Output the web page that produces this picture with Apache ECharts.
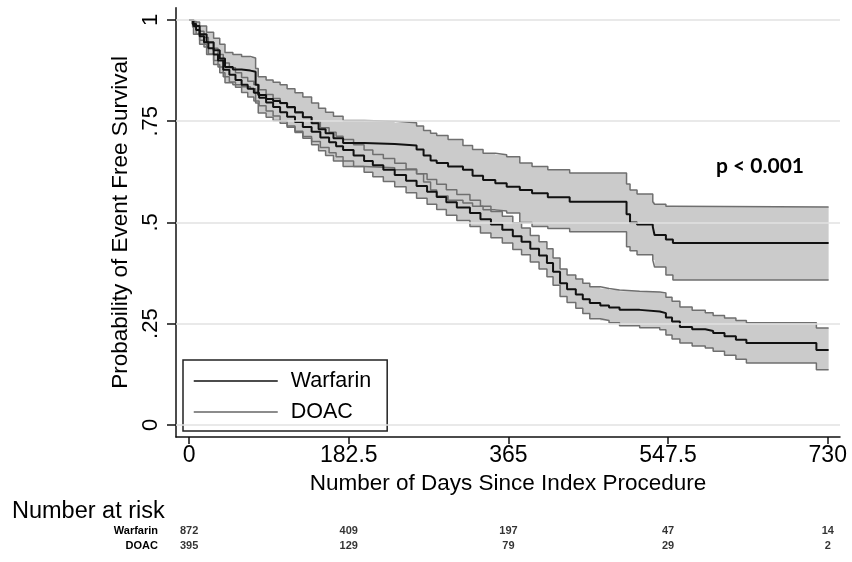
<!DOCTYPE html>
<html><head><meta charset="utf-8">
<script src="https://cdn.jsdelivr.net/npm/echarts@6/dist/echarts.min.js"></script>
<style>html,body{margin:0;padding:0;background:#fff}#c{width:852px;height:562px}</style>
</head><body><div id="c"></div><script>
// ---- tick definitions ----
const xTicks = [0, 182.5, 365, 547.5, 730];
const yTicks = [0, 0.25, 0.5, 0.75, 1];

// ---- Warfarin Kaplan-Meier estimate with 95% CI ----
const wfDays = [0,4,8,12,17,22,28,33,39,46,53,60,67,74,80,88,96,104,112,121,130,140,150,160,168,176,188,200,210,222,235,248,260,272,283,294,306,321,333,345,358,370,380,390,400,409,416,424,432,442,450,458,470,480,492,515,538,545,552,561,575,590,599,612,625,637,717,731];
const wfEst = [1,.99,.975,.96,.945,.93,.915,.90,.877,.865,.852,.84,.83,.82,.808,.796,.785,.772,.761,.748,.736,.724,.71,.698,.688,.679,.665,.652,.641,.63,.617,.603,.59,.576,.563,.55,.537,.523,.508,.495,.482,.466,.452,.435,.418,.40,.378,.35,.335,.322,.31,.301,.295,.29,.284,.28,.276,.265,.255,.242,.236,.232,.227,.219,.21,.202,.185,.185];
const wfLo = [1,.983,.965,.95,.933,.916,.90,.884,.86,.847,.834,.821,.81,.80,.788,.775,.763,.75,.738,.725,.712,.70,.685,.672,.662,.652,.638,.624,.613,.601,.588,.573,.56,.545,.532,.518,.505,.49,.474,.462,.449,.433,.42,.402,.385,.366,.345,.317,.302,.288,.275,.262,.258,.252,.245,.24,.235,.222,.212,.202,.195,.19,.182,.172,.162,.153,.136,.136];
const wfHi = [1,.997,.985,.972,.957,.944,.93,.915,.894,.882,.87,.858,.849,.84,.828,.816,.806,.794,.783,.771,.76,.748,.734,.723,.713,.705,.692,.679,.668,.658,.646,.632,.62,.606,.594,.581,.569,.555,.54,.527,.515,.499,.486,.468,.452,.435,.412,.385,.37,.36,.35,.341,.337,.333,.33,.328,.326,.315,.305,.291,.283,.277,.27,.264,.258,.252,.239,.239];

// ---- DOAC Kaplan-Meier estimate with 95% CI ----
const doDays = [0,5,12,20,28,35,41,50,60,70,76,79,88,96,104,112,121,130,140,148,156,165,176,200,235,260,268,276,283,296,313,324,336,350,363,378,392,410,435,500,504,512,530,532,545,553,731];
const doEst = [1,.985,.965,.945,.925,.905,.884,.878,.875,.872,.84,.815,.805,.80,.795,.785,.772,.76,.745,.73,.72,.708,.696,.694,.69,.68,.665,.653,.647,.638,.63,.615,.605,.597,.588,.58,.572,.562,.551,.52,.50,.495,.489,.469,.458,.449,.449];
const doLo = [1,.965,.94,.915,.89,.87,.845,.84,.835,.83,.795,.77,.76,.752,.745,.735,.722,.708,.692,.677,.665,.652,.638,.635,.63,.62,.60,.58,.565,.555,.548,.54,.531,.528,.523,.50,.49,.485,.477,.44,.43,.42,.407,.39,.37,.358,.358];
const doHi = [1,.995,.985,.97,.955,.94,.92,.915,.91,.906,.88,.86,.852,.846,.84,.83,.82,.81,.795,.782,.772,.762,.752,.75,.746,.738,.727,.72,.715,.705,.69,.68,.671,.667,.662,.647,.638,.63,.622,.595,.58,.57,.551,.545,.54,.538,.538];

// ---- number at risk ----
const riskDays = [0, 182.5, 365, 547.5, 730];
const riskGroups = ['Warfarin', 'DOAC'];
const warfarinRisk = [872, 409, 197, 47, 14];
const doacRisk = [395, 129, 79, 29, 2];

const FONT = '"Liberation Sans", Arial, Helvetica, sans-serif';
const XMIN = -15, XMAX = 744, YMIN = -0.03, YMAX = 1.03;

function bandSeries(name, days, lo, hi) {
  return {
    type: 'custom', name, xAxisIndex: 0, yAxisIndex: 0, z: 2, silent: true,
    data: days.map((d, i) => [d, lo[i], hi[i]]),
    encode: { x: 0, y: [1, 2] },
    renderItem(params, api) {
      if (params.dataIndex !== 0) return null;
      const pts = [];
      const n = days.length;
      for (let i = 0; i < n; i++) {
        pts.push(api.coord([days[i], hi[i]]));
        if (i < n - 1) pts.push(api.coord([days[i + 1], hi[i]]));
      }
      for (let i = n - 1; i >= 0; i--) {
        if (i < n - 1) pts.push(api.coord([days[i + 1], lo[i]]));
        pts.push(api.coord([days[i], lo[i]]));
      }
      return { type: 'polygon', shape: { points: pts }, style: { fill: '#cbcbcb', stroke: null } };
    }
  };
}
function stepLine(name, days, vals, color, width, z) {
  return {
    type: 'line', name, step: 'end', xAxisIndex: 0, yAxisIndex: 0,
    data: days.map((d, i) => [d, vals[i]]),
    symbol: 'none', showSymbol: false, silent: true, z,
    lineStyle: { color, width }, itemStyle: { color }
  };
}
function riskSeries(group, vals) {
  return {
    type: 'scatter', xAxisIndex: 1, yAxisIndex: 1, silent: true,
    symbolSize: 1, itemStyle: { color: 'rgba(0,0,0,0)' },
    data: riskDays.map((d, i) => [d, group, vals[i]]),
    label: { show: true, position: 'inside', formatter: p => String(p.value[2]),
      fontSize: 11, fontWeight: 'bold', color: '#000', fontFamily: FONT }
  };
}

const chart = echarts.init(document.getElementById('c'), null, { renderer: 'canvas' });
chart.setOption({
  animation: false,
  backgroundColor: '#fff',
  textStyle: { fontFamily: FONT },
  grid: [
    { left: 176, right: 12, top: 7.85, bottom: 125, containLabel: false },
    { left: 176, right: 12, top: 523, height: 30, containLabel: false }
  ],
  xAxis: [
    { type: 'value', gridIndex: 0, min: XMIN, max: XMAX,
      axisLine: { show: true, onZero: false, lineStyle: { color: '#111', width: 1.5 } },
      axisTick: { show: true, customValues: xTicks, length: 7, lineStyle: { color: '#111', width: 1.5 } },
      axisLabel: { customValues: xTicks, formatter: v => String(v), fontSize: 23, color: '#000', margin: 7, fontFamily: FONT },
      splitLine: { show: false },
      name: 'Number of Days Since Index Procedure', nameLocation: 'middle', nameGap: 30,
      nameTextStyle: { fontSize: 22.5, color: '#000', fontFamily: FONT } },
    { type: 'value', gridIndex: 1, min: XMIN, max: XMAX, show: false }
  ],
  yAxis: [
    { type: 'value', gridIndex: 0, min: YMIN, max: YMAX,
      axisLine: { show: true, onZero: false, lineStyle: { color: '#111', width: 1.5 } },
      axisTick: { show: true, customValues: yTicks, length: 9, lineStyle: { color: '#111', width: 1.5 } },
      axisLabel: { customValues: yTicks, rotate: 90, fontSize: 22, color: '#000', margin: 14, fontFamily: FONT,
        formatter: v => (v === 0 ? '0' : String(v).replace(/^0/, '')) },
      splitLine: { show: false },
      name: 'Probability of Event Free Survival', nameLocation: 'middle', nameRotate: 90, nameGap: 40,
      nameTextStyle: { fontSize: 22.5, color: '#000', fontFamily: FONT } },
    { type: 'category', gridIndex: 1, data: riskGroups, inverse: true,
      axisLine: { show: false }, axisTick: { show: false }, splitLine: { show: false },
      axisLabel: { fontSize: 11, fontWeight: 'bold', color: '#000', margin: 18, fontFamily: FONT } }
  ],
  legend: {
    data: [
      { name: 'Warfarin' },
      { name: 'DOAC', lineStyle: { color: '#666' } }
    ],
    orient: 'vertical', left: 183, top: 360,
    itemWidth: 84, itemHeight: 22, itemGap: 9,
    padding: [10, 16, 8, 10],
    itemStyle: { opacity: 0 },
    lineStyle: { width: 1.5 },
    borderColor: '#222', borderWidth: 1.5, backgroundColor: '#fff',
    selectedMode: false,
    textStyle: { fontSize: 21.5, color: '#000', fontFamily: FONT, padding: [0, 0, 0, 8] }
  },
  graphic: [
    { type: 'text', left: 12, top: 500, style: { text: 'Number at risk', fill: '#000', font: '23.5px ' + FONT } },
    { type: 'text', left: 716, top: 156, style: { text: 'p < 0.001', fill: '#000', font: 'bold 21px Lato, "Open Sans", sans-serif' } }
  ],
  series: [
    { type: 'line', name: 'gridlines', data: [], silent: true, z: 1,
      markLine: { silent: true, symbol: ['none', 'none'], label: { show: false },
        lineStyle: { color: '#e2e2e2', width: 1.5, type: 'solid' },
        data: yTicks.map(v => ({ yAxis: v })) } },
    bandSeries('DOAC CI', doDays, doLo, doHi),
    bandSeries('Warfarin CI', wfDays, wfLo, wfHi),
    stepLine('DOAC lower', doDays, doLo, '#6f6f6f', 1.5, 3),
    stepLine('DOAC upper', doDays, doHi, '#6f6f6f', 1.5, 3),
    stepLine('Warfarin lower', wfDays, wfLo, '#6f6f6f', 1.5, 3),
    stepLine('Warfarin upper', wfDays, wfHi, '#6f6f6f', 1.5, 3),
    stepLine('DOAC', doDays, doEst, '#111', 2, 4),
    stepLine('Warfarin', wfDays, wfEst, '#111', 2, 4),
    riskSeries('Warfarin', warfarinRisk),
    riskSeries('DOAC', doacRisk)
  ]
});
</script></body></html>
